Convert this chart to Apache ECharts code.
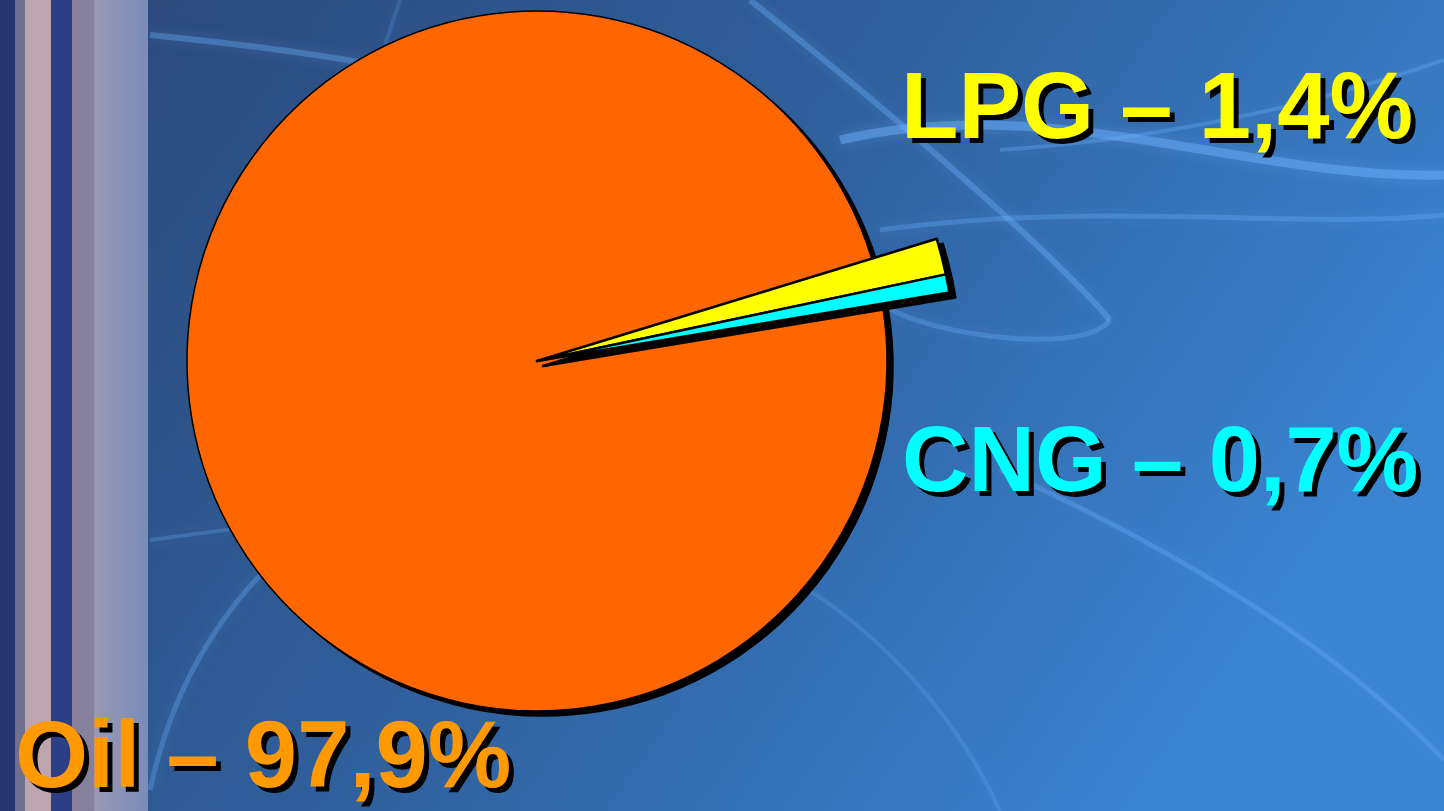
<!DOCTYPE html>
<html>
<head>
<meta charset="utf-8">
<script src="https://cdn.jsdelivr.net/npm/echarts@6/dist/echarts.min.js"></script>
<style>
html,body{margin:0;padding:0;background:#2f5a94;}
#chart{width:1444px;height:811px;}
</style>
</head>
<body>
<div id="chart"></div>
<script>
const fuels  = ["LPG","CNG","Oil"];
const shares = [1.4, 0.7, 97.9];
const fills  = ["#ffff00","#00ffff","#ff6600"];
const txtCol = ["#ffff00","#00ffff","#ff9900"];

// where each label sits (left x, middle y)
const labelAt = [[901,112],[902,466],[15,761]];

const chart=echarts.init(document.getElementById("chart"));

const fmt = p => p.name+" \u2013 "+String(p.value).replace(".",",")+"%";
const txt = i => ({
  show:true, formatter:fmt, color:txtCol[i], overflow:"none",
  fontFamily:"Liberation Sans, Arial, sans-serif", fontWeight:"bold", fontSize:i===1?92:94,
  textShadowColor:"#000", textShadowOffsetX:5, textShadowOffsetY:5, textShadowBlur:0.6
});
const blank = {color:"rgba(0,0,0,0)",borderWidth:0};
const solid = (i,bw) => ({color:fills[i],borderColor:"#000",borderWidth:bw});
const dark  = bw => ({color:"#000",borderColor:"#000",borderWidth:bw});

const layout = p => ({
  x:labelAt[p.dataIndex][0], y:labelAt[p.dataIndex][1], align:"left", verticalAlign:"middle"
});

// one pie layer; show = which slices are drawn, shadow = black copy shifted
function layer(show, r, shadow, bw){
  const c = shadow ? [543,366] : [537,361];
  return {
    type:"pie", silent:true, center:c, radius:[0,r],
    startAngle:17, clockwise:true, animation:false,
    label:{show:false}, labelLine:{show:false}, labelLayout:layout,
    data:fuels.map((f,i)=>{
      if(!show(i)) return {name:f,value:shares[i],itemStyle:blank};
      return shadow ? {name:f,value:shares[i],itemStyle:dark(bw)}
                    : {name:f,value:shares[i],itemStyle:solid(i,bw),label:txt(i)};
    })
  };
}

// background decoration: building at the left, light streaks
const streak = (x1,y1,cx1,cy1,cx2,cy2,x2,y2,a,w) => ({
  type:"bezierCurve", silent:true, z:-5,
  shape:{x1,y1,cpx1:cx1,cpy1:cy1,cpx2:cx2,cpy2:cy2,x2,y2},
  style:{stroke:`rgba(110,180,255,${a})`,lineWidth:w,fill:null,shadowBlur:14,shadowColor:"rgba(120,190,255,0.6)"}
});

chart.setOption({
  backgroundColor:{type:"linear",x:0,y:0,x2:0.8,y2:1,colorStops:[
    {offset:0,color:"#2b4676"},{offset:0.55,color:"#30619f"},{offset:1,color:"#3a84d2"}]},
  graphic:[
    {type:"rect",silent:true,z:-6,shape:{x:0,y:0,width:15,height:811},style:{fill:"#25356f"}},
    {type:"rect",silent:true,z:-6,shape:{x:15,y:0,width:10,height:811},style:{fill:"#6f7090"}},
    {type:"rect",silent:true,z:-6,shape:{x:25,y:0,width:26,height:811},style:{fill:"#bda5b0"}},
    {type:"rect",silent:true,z:-6,shape:{x:51,y:0,width:21,height:811},style:{fill:"#2c3f86"}},
    {type:"rect",silent:true,z:-6,shape:{x:72,y:0,width:22,height:811},style:{fill:"#87809c"}},
    {type:"rect",silent:true,z:-6,shape:{x:94,y:0,width:54,height:811},
      style:{fill:{type:"linear",x:0,y:0,x2:1,y2:0,colorStops:[{offset:0,color:"#9a98b4"},{offset:1,color:"#7a8cb8"}]}}},
    streak(150,35,250,45,330,55,400,70,0.35,6),
    streak(385,45,390,30,395,15,400,0,0.2,4),
    streak(750,0,900,120,1050,250,1110,320,0.35,6),
    streak(840,140,1050,90,1250,180,1444,175,0.45,9),
    streak(880,230,1100,200,1300,230,1444,215,0.3,5),
    streak(1110,320,1080,360,900,330,880,300,0.3,5),
    streak(1444,60,1300,110,1150,140,1000,150,0.3,4),
    streak(1000,470,1200,560,1350,660,1444,760,0.3,5),
    streak(150,790,180,650,260,560,330,520,0.3,5),
    streak(150,540,300,520,420,505,520,500,0.25,4),
    streak(750,560,850,600,950,700,1000,811,0.2,4)
  ],
  series:[
    layer(i=>i===2, 350, true, 1.5),
    layer(i=>i===2, 350, false, 1.5),
    layer(i=>i<2, 418, true, 2.5),
    layer(i=>i<2, 418, false, 2.5)
  ]
});
</script>
</body>
</html>
